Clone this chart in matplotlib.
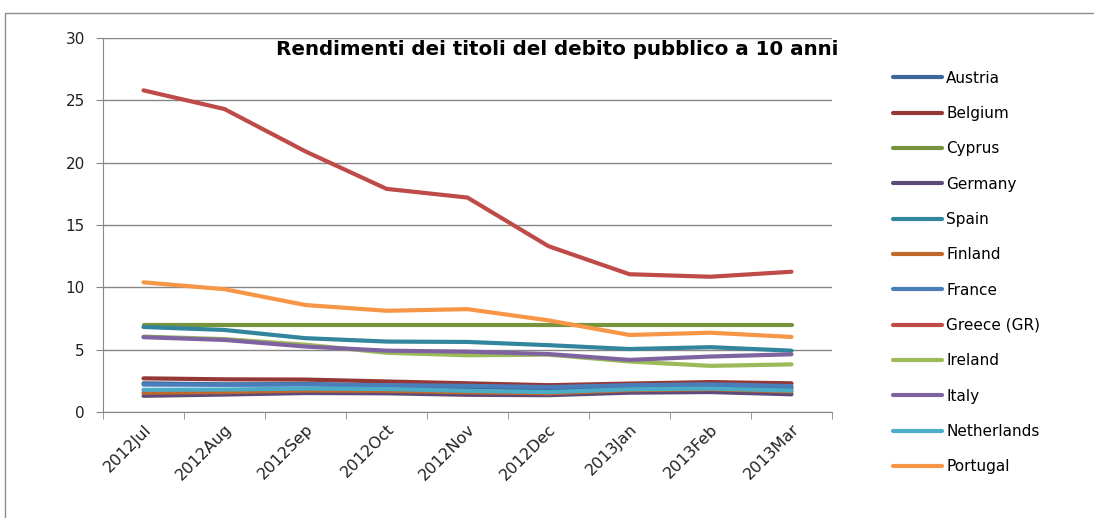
import matplotlib.pyplot as plt
from matplotlib.patches import Rectangle

# months on the x axis
months = ['2012Jul', '2012Aug', '2012Sep', '2012Oct', '2012Nov',
          '2012Dec', '2013Jan', '2013Feb', '2013Mar']

# 10-year government bond yields (%)
austria = [2.30, 2.22, 2.25, 2.12, 1.98, 1.88, 2.03, 2.08, 1.90]
belgium = [2.70, 2.62, 2.60, 2.45, 2.30, 2.15, 2.28, 2.40, 2.30]
cyprus = [6.95, 6.95, 6.95, 6.95, 6.95, 6.95, 6.95, 6.95, 6.95]
germany = [1.30, 1.40, 1.52, 1.50, 1.38, 1.35, 1.55, 1.60, 1.42]
spain = [6.82, 6.58, 5.92, 5.65, 5.62, 5.36, 5.05, 5.20, 4.92]
finland = [1.55, 1.60, 1.72, 1.70, 1.58, 1.50, 1.75, 1.83, 1.65]
france = [2.20, 2.18, 2.20, 2.15, 2.10, 2.00, 2.15, 2.22, 2.08]
greece = [25.8, 24.3, 20.9, 17.9, 17.2, 13.3, 11.05, 10.85, 11.25]
ireland = [6.05, 5.85, 5.40, 4.75, 4.55, 4.60, 4.05, 3.70, 3.82]
italy = [6.00, 5.78, 5.25, 4.92, 4.84, 4.65, 4.18, 4.45, 4.63]
netherlands = [1.78, 1.80, 1.88, 1.84, 1.70, 1.60, 1.82, 1.88, 1.72]
portugal = [10.4, 9.85, 8.58, 8.12, 8.25, 7.35, 6.18, 6.36, 6.02]

series = [
    ('Austria', austria, '#3C679C'),
    ('Belgium', belgium, '#953735'),
    ('Cyprus', cyprus, '#77933C'),
    ('Germany', germany, '#5F497A'),
    ('Spain', spain, '#31859C'),
    ('Finland', finland, '#C0692A'),
    ('France', france, '#4A7EBB'),
    ('Greece (GR)', greece, '#BE4B48'),
    ('Ireland', ireland, '#9BBB59'),
    ('Italy', italy, '#7F63A0'),
    ('Netherlands', netherlands, '#4BACC6'),
    ('Portugal', portugal, '#F79646'),
]

fig = plt.figure(figsize=(10.94, 5.18), dpi=100)
ax = fig.add_axes([103 / 1094, 1 - 412 / 518, 729 / 1094, 374 / 518])

x = range(len(months))
for name, vals, col in series:
    ax.plot(x, vals, color=col, lw=3, label=name, solid_capstyle='round')

ax.set_xlim(-0.5, len(months) - 0.5)
ax.set_ylim(0, 30)
ax.set_yticks(range(0, 31, 5))
ax.yaxis.grid(True, color='#868686', lw=1)
ax.set_axisbelow(True)

ax.set_xticks(x)
ax.set_xticklabels(months, rotation=45, ha='right', rotation_mode='anchor',
                   fontsize=11.5, color='#222222')
ax.set_xticks([i - 0.5 for i in range(len(months) + 1)], minor=True)
ax.tick_params(axis='x', which='major', length=0, pad=7)
ax.tick_params(axis='x', which='minor', length=5, color='#868686')
ax.tick_params(axis='y', length=5, color='#868686', labelsize=11,
               labelcolor='#222222', pad=8)

for side in ['top', 'right']:
    ax.spines[side].set_visible(False)
for side in ['left', 'bottom']:
    ax.spines[side].set_color('#868686')

fig.text(0.509, 0.905, 'Rendimenti dei titoli del debito pubblico a 10 anni',
         ha='center', va='center', fontsize=14.3, fontweight='bold')

fig.legend(loc='upper left', bbox_to_anchor=(879 / 1094, 1 - 57 / 518),
           frameon=False, fontsize=11, handlelength=3.2, handletextpad=0.3,
           labelspacing=1.33)

# thin frame around the chart
fig.patches.append(Rectangle((5 / 1094, -0.1), 1.2, 1.1 - 13 / 518,
                             transform=fig.transFigure, fill=False,
                             edgecolor='#8c8c8c', lw=1))

fig.savefig('out.png', dpi=100)
